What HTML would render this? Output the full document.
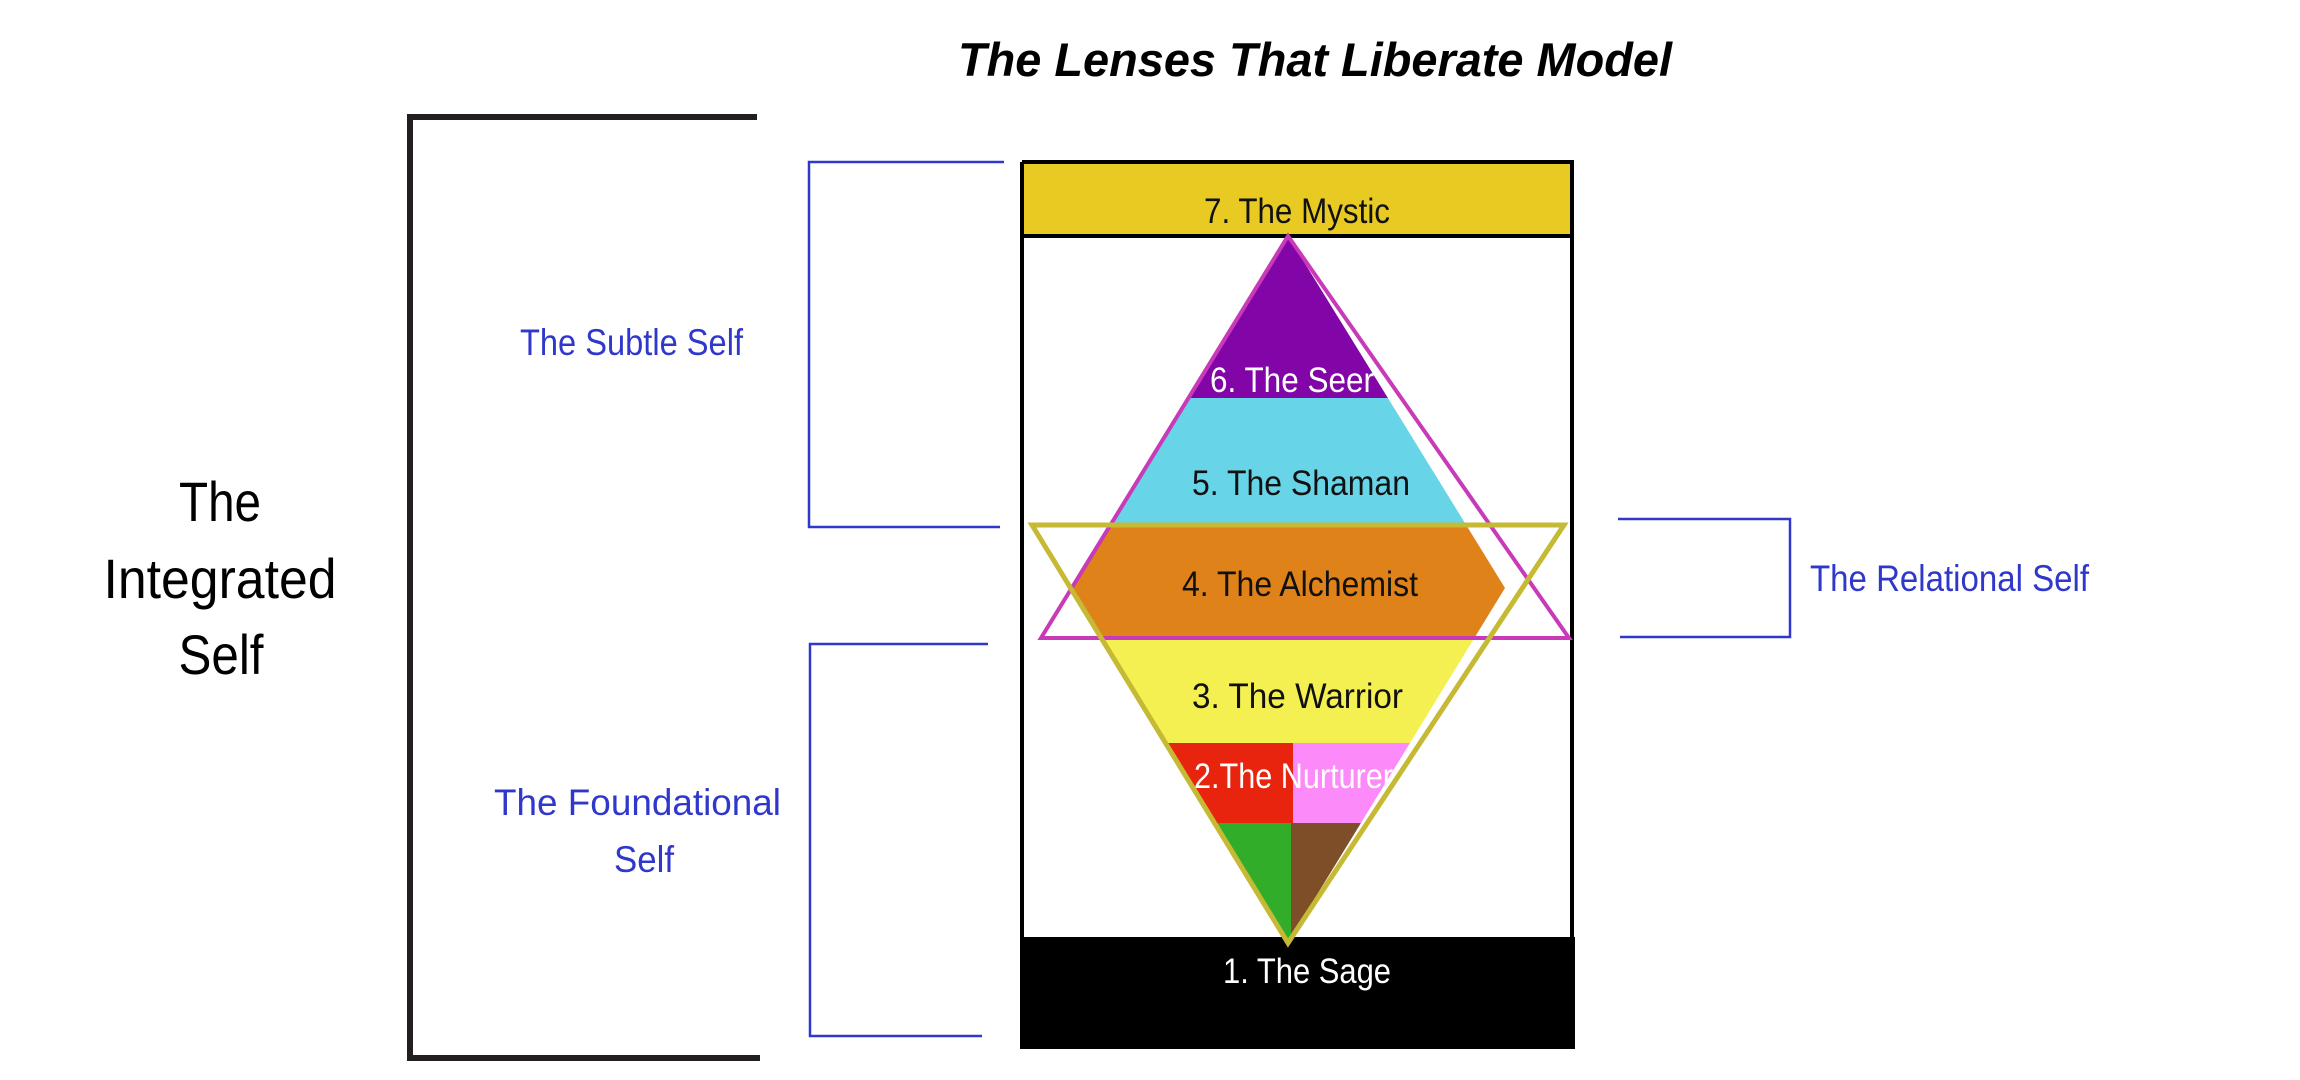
<!DOCTYPE html>
<html><head><meta charset="utf-8"><style>
html,body{margin:0;padding:0;background:#fff;}
svg{display:block;}
text{font-family:"Liberation Sans",sans-serif;}
</style></head><body>
<svg width="2300" height="1080" viewBox="0 0 2300 1080" xmlns="http://www.w3.org/2000/svg">
<rect width="2300" height="1080" fill="#fff"/>
<text x="958" y="76" font-size="47" font-weight="bold" font-style="italic" textLength="714" lengthAdjust="spacingAndGlyphs" fill="#000">The Lenses That Liberate Model</text>

<!-- big bracket -->
<path d="M757,117 L410,117 L410,1058 L760,1058" fill="none" stroke="#231f20" stroke-width="6"/>
<text x="220" y="521" font-size="56" text-anchor="middle" textLength="82" lengthAdjust="spacingAndGlyphs" fill="#000">The</text>
<text x="220" y="598" font-size="56" text-anchor="middle" textLength="233" lengthAdjust="spacingAndGlyphs" fill="#000">Integrated</text>
<text x="221" y="674" font-size="56" text-anchor="middle" textLength="85" lengthAdjust="spacingAndGlyphs" fill="#000">Self</text>

<!-- blue brackets -->
<g fill="none" stroke="#3038cc" stroke-width="2.5">
<path d="M1004,162 L809,162 L809,527 L1000,527"/>
<path d="M988,644 L810,644 L810,1036 L982,1036"/>
<path d="M1618,519 L1790,519 L1790,637 L1620,637"/>
</g>
<g fill="#3038cc" font-size="37">
<text x="520" y="355" textLength="223" lengthAdjust="spacingAndGlyphs">The Subtle Self</text>
<text x="494" y="815" textLength="287" lengthAdjust="spacingAndGlyphs">The Foundational</text>
<text x="614" y="872" textLength="60" lengthAdjust="spacingAndGlyphs">Self</text>
<text x="1810" y="591" textLength="279" lengthAdjust="spacingAndGlyphs">The Relational Self</text>
</g>

<!-- box -->
<rect x="1022" y="162" width="550" height="74" fill="#e8ca22"/>
<rect x="1020" y="937" width="555" height="112" fill="#000"/>
<path d="M1022,162 L1572,162 L1572,937 M1022,236 L1572,236 M1022,162 L1022,937" fill="none" stroke="#000" stroke-width="4"/>

<defs>
<clipPath id="dia"><polygon points="1288,236 1071,588 1288,942 1505,588"/></clipPath>
</defs>
<g clip-path="url(#dia)">
<rect x="1000" y="230" width="600" height="168" fill="#8205a8"/>
<rect x="1000" y="398" width="600" height="127" fill="#68d4e8"/>
<rect x="1000" y="525" width="600" height="113" fill="#df821a"/>
<rect x="1000" y="638" width="600" height="106" fill="#f4f052"/>
<rect x="1000" y="743" width="293" height="80" fill="#e8230e"/>
<rect x="1293" y="743" width="300" height="80" fill="#fc8af8"/>
<rect x="1000" y="823" width="291" height="130" fill="#31ad2a"/>
<rect x="1291" y="823" width="300" height="130" fill="#7d4e28"/>
</g>
<polygon points="1288,236 1041,638 1569,638" fill="none" stroke="#c93ab9" stroke-width="4"/>
<polygon points="1032,525 1564,525 1288,943" fill="none" stroke="#c6b934" stroke-width="5"/>

<g font-size="35">
<text x="1204" y="223" textLength="186" lengthAdjust="spacingAndGlyphs" fill="#111">7. The Mystic</text>
<text x="1210" y="392" textLength="164" lengthAdjust="spacingAndGlyphs" fill="#fff">6. The Seer</text>
<text x="1192" y="495" textLength="218" lengthAdjust="spacingAndGlyphs" fill="#111">5. The Shaman</text>
<text x="1182" y="596" textLength="236" lengthAdjust="spacingAndGlyphs" fill="#111">4. The Alchemist</text>
<text x="1192" y="708" textLength="211" lengthAdjust="spacingAndGlyphs" fill="#111">3. The Warrior</text>
<text x="1194" y="788" textLength="199" lengthAdjust="spacingAndGlyphs" fill="#fff">2.The Nurturer</text>
<text x="1223" y="983" textLength="168" lengthAdjust="spacingAndGlyphs" fill="#fff">1. The Sage</text>
</g>
</svg>
</body></html>
